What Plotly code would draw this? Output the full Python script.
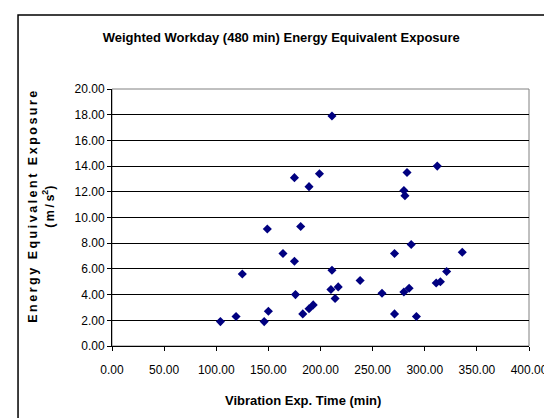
import plotly.graph_objects as go

# exposure time (min) and weighted energy-equivalent exposure (m/s^2)
exp_time = [104, 119, 125, 146, 149, 150, 164, 175, 175, 176, 181, 183, 189,
            189, 193, 199, 211, 211, 210, 214, 217, 238, 259, 271, 271, 280,
            281, 280, 283, 285, 287, 292, 311, 312, 315, 321, 336]
exposure = [1.9, 2.3, 5.6, 1.9, 9.1, 2.7, 7.2, 13.1, 6.6, 4.0, 9.3, 2.5, 12.4,
            2.9, 3.2, 13.4, 17.9, 5.9, 4.4, 3.7, 4.6, 5.1, 4.1, 7.2, 2.5, 12.1,
            11.7, 4.2, 13.5, 4.5, 7.9, 2.3, 4.9, 14.0, 5.0, 5.8, 7.3]

x_ticks = [0, 50, 100, 150, 200, 250, 300, 350, 400]
y_ticks = [0, 2, 4, 6, 8, 10, 12, 14, 16, 18, 20]

FONT = "Liberation Sans, Arial, sans-serif"
ts = "\u2009"

fig = go.Figure()
fig.add_trace(go.Scatter(
    x=exp_time, y=exposure, mode="markers",
    marker=dict(symbol="diamond", size=7, color="#000080"),
    showlegend=False,
))
# empty trace so the overlaid axis (inner half of cross ticks) is drawn
fig.add_trace(go.Scatter(x=[], y=[], yaxis="y2", showlegend=False))

fig.update_layout(
    width=552, height=418,
    margin=dict(l=104, r=22, t=81, b=80),
    paper_bgcolor="white", plot_bgcolor="white",
    font=dict(family=FONT, size=12, color="black"),
    title=dict(text="<b>Weighted Workday (480 min) Energy Equivalent Exposure</b>",
               x=0.495, xref="container", xanchor="center",
               y=1 - 29 / 418, yref="container", yanchor="middle",
               font=dict(size=13, family=FONT, color="black")),
    xaxis=dict(range=[0, 400], tickvals=x_ticks,
               ticktext=[f"{v:.2f}" for v in x_ticks],
               showgrid=False, zeroline=False,
               showline=True, linecolor="black", linewidth=1,
               ticks="outside", ticklen=4, tickcolor="black",
               ticklabelstandoff=9),
    yaxis=dict(range=[0, 20], tickvals=y_ticks,
               ticktext=[f"{v:.2f}" for v in y_ticks],
               showgrid=True, gridcolor="black", gridwidth=1,
               zeroline=False, showline=True, linecolor="black", linewidth=1,
               ticks="outside", ticklen=4, tickcolor="black"),
    yaxis2=dict(range=[0, 20], tickvals=y_ticks, overlaying="y", side="left",
                anchor="x", showticklabels=False, showgrid=False,
                zeroline=False, showline=False,
                ticks="inside", ticklen=4, tickcolor="black"),
    shapes=[
        # plot area border (right/top)
        dict(type="rect", xref="paper", yref="paper", x0=0, x1=1, y0=0, y1=1,
             line=dict(color="#808080", width=1), layer="below"),
        # outer chart border, cropped at right and bottom
        dict(type="rect", xref="paper", yref="paper",
             x0=(8 - 104) / 426, x1=(560 - 104) / 426,
             y0=(338 - 430) / 257, y1=(338 - 7) / 257,
             line=dict(color="black", width=1.5)),
    ],
    annotations=[
        dict(text="<b>Vibration Exp. Time (min)</b>", xref="paper", yref="paper",
             x=(299 - 104) / 426, y=-(392 - 338) / 257,
             xanchor="center", yanchor="middle", showarrow=False,
             font=dict(size=13, family=FONT)),
        dict(text="<b>" + ts.join("Energy Equivalent Exposure") + "<br>"
                  + ts.join("(m/s") + "<sup>2</sup>)</b>",
             xref="paper", yref="paper",
             x=(32 - 104) / 426, y=0.54, textangle=-90,
             xanchor="center", yanchor="middle", showarrow=False,
             font=dict(size=12.5, family=FONT)),
    ],
)

fig.write_html("out.html")
